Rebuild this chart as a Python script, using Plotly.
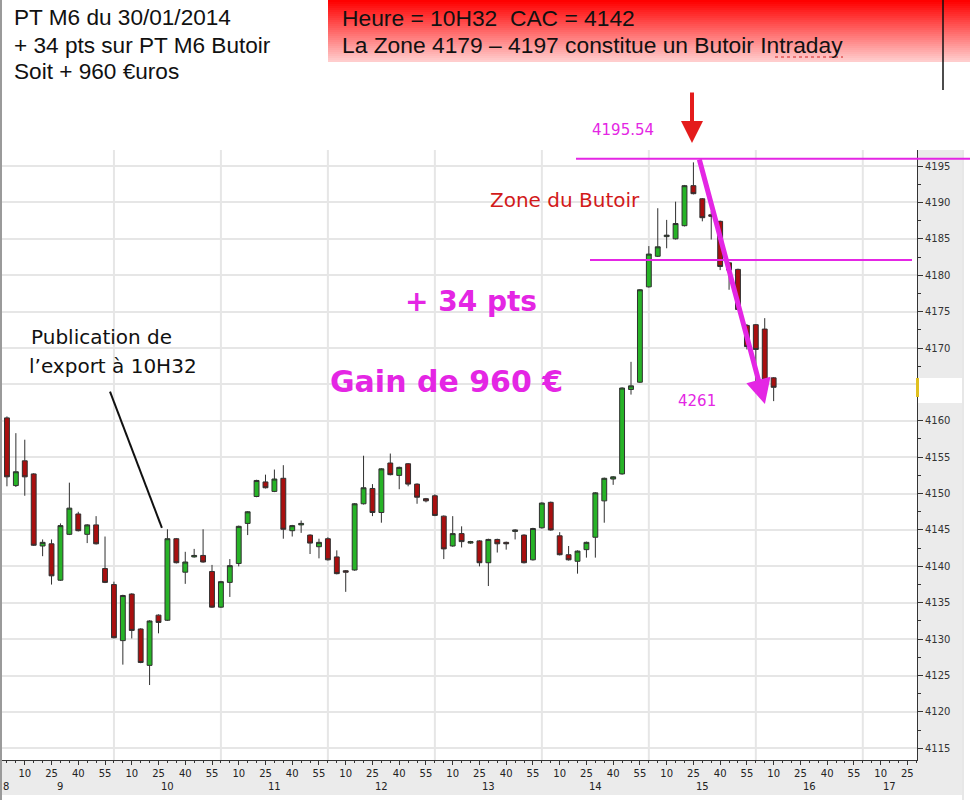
import plotly.graph_objects as go

W, H = 970, 800

# ---------------- data (5-minute bars, minutes after 09:00) ----------------
bar_minutes = list(range(0, 435, 5))

opens = [4160.4, 4151.1, 4154.5, 4152.7, 4142.8, 4143.1, 4138.1, 4144.4, 4147.2, 4144.4,
         4145.7, 4139.7, 4137.5, 4129.8, 4136.2, 4131.4, 4126.4, 4133.3, 4132.6, 4143.8,
         4139.2, 4141.3, 4141.5, 4139.3, 4134.4, 4137.8, 4140.4, 4145.9, 4149.6, 4151.6,
         4150.3, 4152.1, 4144.9, 4145.7, 4144.3, 4142.7, 4143.8, 4141.3, 4139.4, 4139.5,
         4148.6, 4150.7, 4147.4, 4154.2, 4152.5, 4154.1, 4151.3, 4149.3, 4149.7, 4146.9,
         4142.8, 4144.5, 4143.2, 4143.5, 4140.5, 4143.7, 4143.3, 4144.8, 4144.3, 4140.9,
         4145.3, 4148.8, 4144.2, 4141.6, 4140.7, 4142.3, 4144.0, 4149.0, 4152.0, 4152.7,
         4164.3, 4165.3, 4178.4, 4182.6, 4185.3, 4185.0, 4186.8, 4192.3, 4190.5, 4188.3,
         4187.4, 4181.7, 4180.8, 4173.1, 4173.2, 4172.6, 4165.9]
highs = [4160.6, 4158.3, 4157.4, 4152.8, 4143.7, 4143.7, 4145.9, 4151.5, 4147.5, 4145.8,
         4146.9, 4144.1, 4137.9, 4136.1, 4136.3, 4131.5, 4132.6, 4133.4, 4145.1, 4143.9,
         4142.0, 4142.4, 4145.1, 4140.2, 4138.0, 4141.0, 4145.6, 4147.6, 4151.9, 4152.6,
         4153.3, 4153.9, 4145.7, 4146.3, 4144.4, 4143.8, 4144.0, 4142.2, 4139.5, 4148.7,
         4155.2, 4151.3, 4153.5, 4155.5, 4153.7, 4154.2, 4151.4, 4149.4, 4149.9, 4147.0,
         4146.9, 4145.5, 4143.5, 4143.6, 4143.8, 4143.8, 4143.4, 4145.1, 4144.4, 4145.3,
         4148.8, 4148.9, 4144.7, 4142.8, 4142.2, 4143.4, 4150.2, 4152.2, 4152.4, 4164.6,
         4168.1, 4178.1, 4184.0, 4189.2, 4187.6, 4190.1, 4192.4, 4195.5, 4190.6, 4188.8,
         4187.5, 4181.8, 4180.9, 4173.3, 4173.3, 4174.1, 4166.0]
lows = [4151.0, 4150.9, 4149.7, 4142.8, 4141.4, 4137.5, 4138.0, 4144.3, 4144.8, 4143.2,
        4143.0, 4137.7, 4130.1, 4126.5, 4130.1, 4126.7, 4123.7, 4130.8, 4132.5, 4140.4,
        4137.6, 4141.2, 4140.5, 4134.3, 4134.3, 4135.8, 4140.0, 4144.3, 4149.5, 4150.7,
        4150.2, 4143.8, 4144.1, 4144.6, 4141.7, 4141.1, 4140.8, 4138.9, 4136.5, 4139.4,
        4148.5, 4146.9, 4146.0, 4152.5, 4150.6, 4151.0, 4148.6, 4148.8, 4146.9, 4141.0,
        4142.7, 4142.6, 4143.1, 4140.0, 4137.3, 4141.9, 4142.3, 4143.7, 4140.4, 4140.8,
        4145.2, 4144.9, 4141.5, 4140.8, 4139.0, 4141.2, 4141.2, 4146.0, 4151.2, 4152.6,
        4163.6, 4165.2, 4178.3, 4182.5, 4183.7, 4184.9, 4186.7, 4191.1, 4187.4, 4184.9,
        4180.7, 4178.0, 4175.2, 4169.8, 4163.8, 4165.5, 4162.7]
closes = [4152.3, 4153.0, 4152.3, 4142.9, 4143.3, 4138.7, 4145.6, 4148.0, 4144.9, 4145.7,
          4143.1, 4137.8, 4130.2, 4136.0, 4131.2, 4126.8, 4132.5, 4132.3, 4143.8, 4140.5,
          4140.6, 4141.5, 4140.6, 4134.4, 4137.9, 4140.1, 4145.5, 4147.5, 4151.8, 4150.8,
          4152.0, 4145.1, 4145.6, 4145.9, 4143.2, 4143.3, 4140.9, 4139.0, 4139.2, 4148.6,
          4150.8, 4147.4, 4153.4, 4152.6, 4153.6, 4151.3, 4149.5, 4149.0, 4147.0, 4142.4,
          4144.5, 4143.4, 4143.4, 4140.5, 4143.7, 4143.1, 4143.1, 4145.0, 4140.5, 4145.2,
          4148.7, 4145.0, 4141.6, 4140.9, 4142.1, 4143.3, 4150.1, 4152.1, 4152.3, 4164.5,
          4164.8, 4178.0, 4182.9, 4183.9, 4185.5, 4187.1, 4192.3, 4191.2, 4187.9, 4188.1,
          4181.2, 4180.7, 4175.3, 4170.2, 4169.8, 4165.6, 4164.6]

x_tick_vals = list(range(10, 510, 15))
x_tick_text = (["10", "25", "40", "55"] * 9)[:len(x_tick_vals)]
hour_labels = ["9", "10", "11", "12", "13", "14", "15", "16", "17"]
hour_label_pos = [30, 90, 150, 210, 270, 330, 390, 450, 495]
hour_grid = [60, 120, 180, 240, 300, 360, 420, 480]
y_tick_vals = list(range(4115, 4200, 5))

butoir_high = 4196.0
butoir_low = 4182.1

MAG = "#e426e4"

# ---------------- helpers ----------------
def px(x):
    return x / W

def py(y):
    return 1 - y / H

X_RANGE = [-3.9, 510.4]
Y_RANGE = [4113.4, 4197.2]
XDOM = [0, px(917)]
YDOM = [py(760), py(150)]

fig = go.Figure()
fig.add_trace(go.Candlestick(
    x=bar_minutes, open=opens, high=highs, low=lows, close=closes,
    increasing=dict(fillcolor="#27b327", line=dict(color="#303030", width=1)),
    decreasing=dict(fillcolor="#a90f0f", line=dict(color="#303030", width=1)),
    whiskerwidth=0, showlegend=False, hoverinfo="skip",
))

shapes = []
# right and bottom grey strips
shapes.append(dict(type="rect", xref="paper", yref="paper", x0=px(917), x1=px(962),
                   y0=py(795), y1=py(150), fillcolor="#ebebeb", line_width=0, layer="below"))
shapes.append(dict(type="rect", xref="paper", yref="paper", x0=0, x1=px(962),
                   y0=py(795), y1=py(760), fillcolor="#ebebeb", line_width=0, layer="below"))
shapes.append(dict(type="line", xref="paper", yref="paper", x0=px(963), x1=px(963),
                   y0=py(800), y1=py(150), line=dict(color="#cfcfcf", width=1), layer="below"))
# hour grid lines
for g in hour_grid:
    shapes.append(dict(type="line", xref="x", yref="paper", x0=g, x1=g, y0=YDOM[0], y1=YDOM[1],
                       line=dict(color="#e6e6e6", width=2), layer="below"))
# current-price box on the right axis
shapes.append(dict(type="rect", xref="paper", yref="paper", x0=px(918), x1=px(962),
                   y0=py(403), y1=py(378), fillcolor="white", line_width=0, layer="above"))
shapes.append(dict(type="rect", xref="paper", yref="paper", x0=px(916), x1=px(919),
                   y0=py(397), y1=py(378), fillcolor="#e0c020", line_width=0, layer="above"))
# banner gradient (red -> pink)
n = 31
for i in range(n):
    f = i / (n - 1)
    g = int(f * 205)
    shapes.append(dict(type="rect", xref="paper", yref="paper", x0=px(328), x1=1,
                       y0=py(2 * (i + 1)), y1=py(2 * i), fillcolor=f"rgb(255,{g},{g})",
                       line_width=0, layer="below"))
# spell-check underline under "Intraday"
shapes.append(dict(type="line", xref="paper", yref="paper", x0=px(775), x1=px(843),
                   y0=py(57), y1=py(57), line=dict(color="#d02020", width=1, dash="dot")))
# frame lines
shapes.append(dict(type="line", xref="paper", yref="paper", x0=px(943), x1=px(943),
                   y0=py(90), y1=py(0), line=dict(color="#111111", width=1.5)))
shapes.append(dict(type="line", xref="paper", yref="paper", x0=px(1), x1=px(1),
                   y0=0, y1=1, line=dict(color="#9a9a9a", width=2)))
# butoir lines
shapes.append(dict(type="line", xref="paper", yref="y", x0=px(576), x1=1,
                   y0=butoir_high, y1=butoir_high, line=dict(color=MAG, width=2)))
shapes.append(dict(type="line", xref="paper", yref="y", x0=px(590), x1=px(912),
                   y0=butoir_low, y1=butoir_low, line=dict(color=MAG, width=2)))
# publication pointer line
shapes.append(dict(type="line", xref="x", yref="y", x0=57.8, y0=4164.0, x1=86.9, y1=4145.3,
                   line=dict(color="#111111", width=2)))

ann = []
def text(x, y, s, size, color="#111111", family="Liberation Sans, Arial", xanchor="left",
         bold=False):
    if bold:
        s = f"<b>{s}</b>"
    ann.append(dict(xref="paper", yref="paper", x=px(x), y=py(y), text=s, showarrow=False,
                    xanchor=xanchor, yanchor="middle",
                    font=dict(size=size, color=color, family=family)))

text(12, 18, "PT M6 du 30/01/2014", 22.6)
text(12, 45, "+ 34 pts sur PT M6 Butoir", 22.6)
text(12, 72, "Soit + 960 €uros", 22.6)
text(340, 18, "Heure = 10H32\u00a0 CAC = 4142", 22.8, color="#111111")
text(340, 45, "La Zone 4179 – 4197 constitue un Butoir Intraday", 22.8, color="#111111")

DJ = "DejaVu Sans"
text(29, 337, "Publication de", 20, family=DJ)
text(27, 366, "l’export à 10H32", 20, family=DJ)
text(471, 302, "+ 34 pts", 28, color=MAG, family=DJ, xanchor="center", bold=True)
text(446, 381, "Gain de 960 €", 30, color=MAG, family=DJ, xanchor="center", bold=True)
text(565, 200, "Zone du Butoir", 20, color="#d21a1a", family=DJ, xanchor="center")
text(623, 130, "4195.54", 15, color=MAG, family=DJ, xanchor="center")
text(697, 401, "4261", 15, color=MAG, family=DJ, xanchor="center")
text(1, 786, "8", 10, color="#222222", family=DJ)

# hour labels under minute ticks
for lab, pos in zip(hour_labels, hour_label_pos):
    ann.append(dict(xref="x", yref="paper", x=pos, y=py(786), text=lab, showarrow=False,
                    xanchor="center", yanchor="middle",
                    font=dict(size=10, color="#222222", family=DJ)))

# red arrow above the top
ann.append(dict(xref="paper", yref="paper", x=px(692), y=py(143), ax=0, ay=-52,
                text="", showarrow=True, arrowhead=2, arrowsize=1.1, arrowwidth=4,
                arrowcolor="#e41c1c"))
# magenta trend arrow
ann.append(dict(xref="x", yref="y", x=425.1, y=4162.3, axref="x", ayref="y", ax=388.1,
                ay=4196.1, text="", showarrow=True, arrowhead=2, arrowsize=1,
                arrowwidth=5, arrowcolor=MAG))

fig.update_layout(
    width=W, height=H,
    margin=dict(l=0, r=0, t=0, b=0, autoexpand=False),
    paper_bgcolor="white", plot_bgcolor="white",
    boxgap=0.22,
    shapes=shapes, annotations=ann, showlegend=False,
    xaxis=dict(domain=XDOM, range=X_RANGE, rangeslider=dict(visible=False),
               tickmode="array", tickvals=x_tick_vals, ticktext=x_tick_text,
               ticks="outside", ticklen=4, tickcolor="#333333",
               tickfont=dict(size=10, color="#222222", family=DJ),
               showline=True, linecolor="#333333", linewidth=1, showgrid=False,
               zeroline=False, anchor="y",
               minor=dict(tick0=0, dtick=5, ticks="outside", ticklen=2,
                          tickcolor="#333333", showgrid=False)),
    yaxis=dict(domain=YDOM, range=Y_RANGE, side="right", anchor="x",
               tickmode="array", tickvals=y_tick_vals,
               ticks="outside", ticklen=5, tickcolor="#333333",
               tickfont=dict(size=10, color="#333333", family=DJ),
               showline=True, linecolor="#333333", linewidth=1,
               showgrid=True, gridcolor="#e6e6e6", gridwidth=2, zeroline=False,
               minor=dict(tick0=4115, dtick=2.5, ticks="outside", ticklen=3,
                          tickcolor="#333333", showgrid=False)),
)

fig.write_html("out.html",
               config={"displayModeBar": False},
               post_script="document.body.style.margin='0';document.body.style.padding='0';"
                           "document.body.style.overflow='hidden';")
